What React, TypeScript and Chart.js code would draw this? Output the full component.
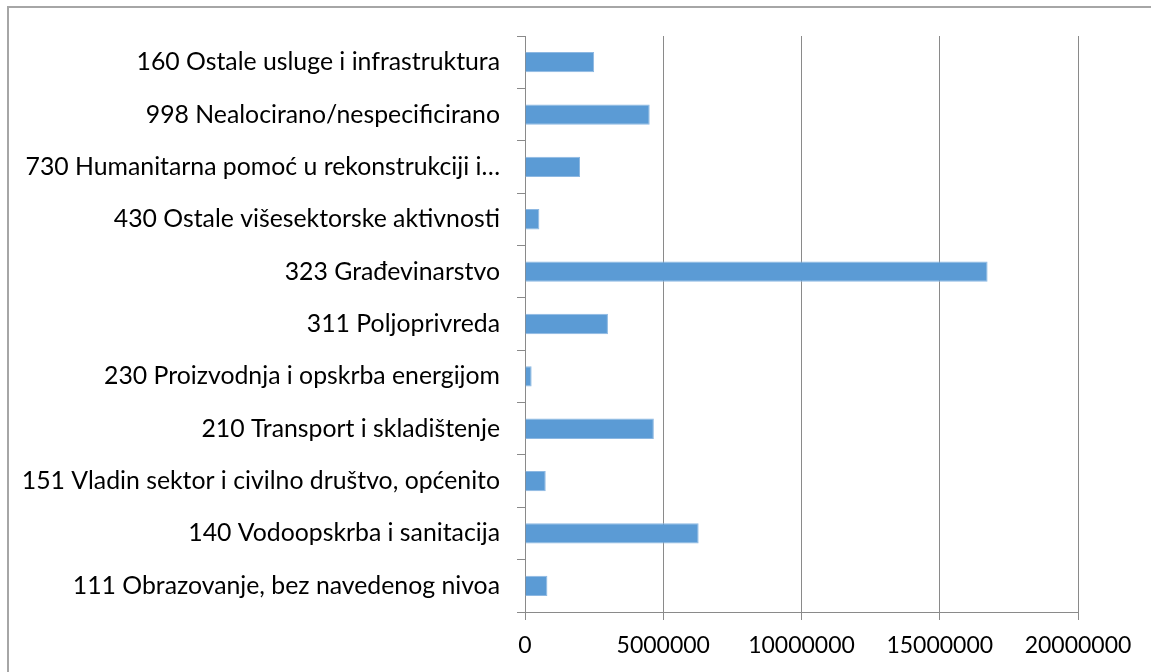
import React, { useEffect, useRef } from "react";
import { Chart, registerables } from "chart.js";

Chart.register(...registerables);

const categories: string[] = [
  "160 Ostale usluge i infrastruktura",
  "998 Nealocirano/nespecificirano",
  "730 Humanitarna pomoć u rekonstrukciji i…",
  "430 Ostale višesektorske aktivnosti",
  "323 Građevinarstvo",
  "311 Poljoprivreda",
  "230 Proizvodnja i opskrba energijom",
  "210 Transport i skladištenje",
  "151 Vladin sektor i civilno društvo, općenito",
  "140 Vodoopskrba i sanitacija",
  "111 Obrazovanje, bez navedenog nivoa",
];

const values: number[] = [
  2500000, 4510000, 1990000, 520000, 16730000, 3000000, 240000, 4660000,
  750000, 6280000, 810000,
];

const axisMin = 0;
const axisMax = 20000000;
const axisStep = 5000000;

const FONT = "Lato";

export default function App() {
  const canvasRef = useRef<HTMLCanvasElement | null>(null);

  useEffect(() => {
    const canvas = canvasRef.current;
    if (!canvas) return;
    const chart = new Chart(canvas, {
      type: "bar",
      data: {
        labels: categories,
        datasets: [
          {
            data: values,
            backgroundColor: "#5B9BD5",
            borderColor: "#8DB8E2",
            borderWidth: 1,
            categoryPercentage: 0.4,
            barPercentage: 0.97,
          },
        ],
      },
      options: {
        indexAxis: "y",
        animation: false,
        responsive: false,
        maintainAspectRatio: false,
        layout: { padding: { left: 0, top: 36, right: 73, bottom: 0 } },
        plugins: {
          legend: { display: false },
          tooltip: { enabled: false },
        },
        scales: {
          x: {
            min: axisMin,
            max: axisMax,
            ticks: {
              stepSize: axisStep,
              color: "#000",
              font: { family: FONT, size: 23 },
              padding: 12,
              maxRotation: 0,
              callback: (v: any) => String(v),
            },
            grid: {
              color: "#8a8a8a",
              lineWidth: 1,
              tickLength: 8,
              drawTicks: true,
            },
            border: { color: "#8a8a8a", width: 1 },
            afterFit: (scale: any) => {
              scale.height = 60;
            },
          },
          y: {
            ticks: {
              color: "#000",
              font: { family: FONT, size: 24.8 },
              padding: 17,
              autoSkip: false,
            },
            grid: {
              drawOnChartArea: false,
              color: "#8a8a8a",
              tickLength: 8,
              offset: true,
            },
            border: { color: "#8a8a8a", width: 1 },
            afterFit: (scale: any) => {
              scale.width = 525;
            },
          },
        },
      },
    });
    return () => chart.destroy();
  }, []);

  return (
    <div
      style={{
        position: "fixed",
        left: 0,
        top: 0,
        width: 1151,
        height: 672,
        overflow: "hidden",
        background: "#fff",
      }}
    >
      <div
        style={{
          position: "absolute",
          left: 7,
          top: 6,
          width: 1200,
          height: 720,
          border: "2px solid #a6a6a6",
          boxSizing: "border-box",
        }}
      />
      <canvas
        ref={canvasRef}
        width={1151}
        height={672}
        style={{ position: "absolute", left: 0, top: 0, width: 1151, height: 672 }}
      />
    </div>
  );
}
